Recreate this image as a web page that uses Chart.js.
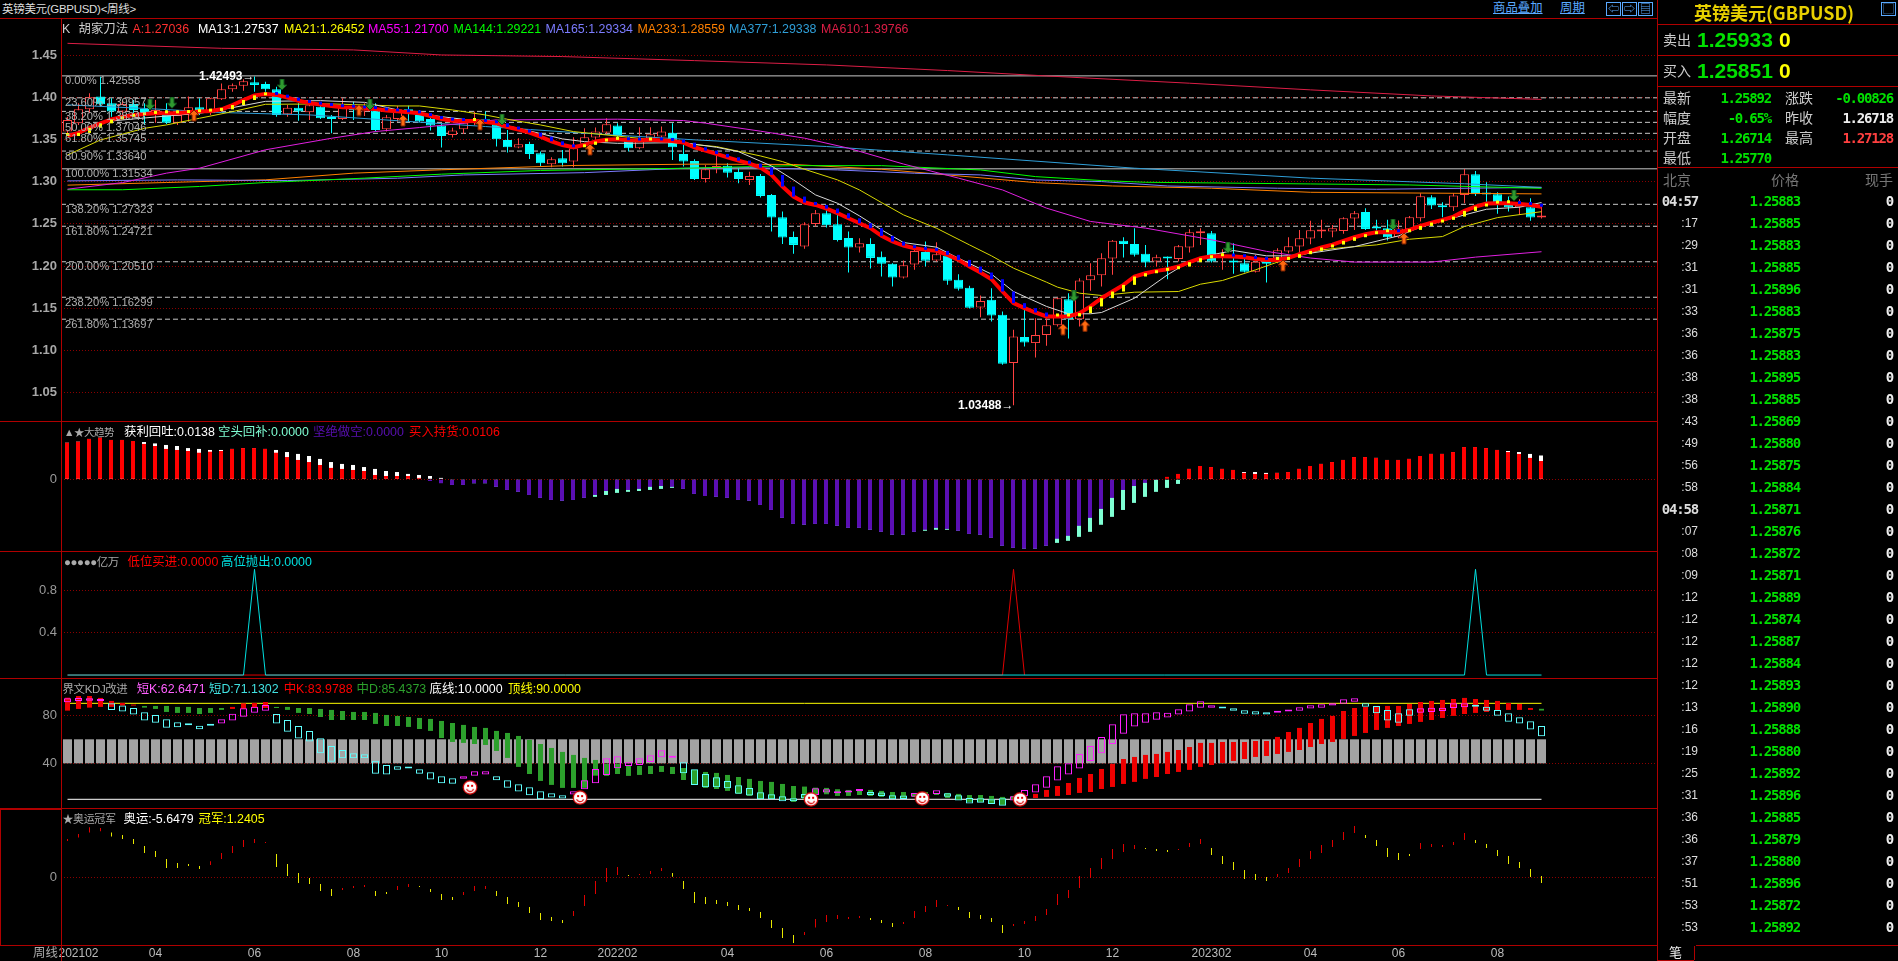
<!DOCTYPE html>
<html>
<head>
<meta charset="utf-8">
<title>英镑美元(GBPUSD)</title>
<script src="https://cdn.jsdelivr.net/npm/chart.js@4/dist/chart.umd.min.js"></script>
<style>
html,body{margin:0;padding:0;background:#000;overflow:hidden}
#page{position:relative;width:1898px;height:961px;background:#000;font-family:"Liberation Sans","Noto Sans CJK SC",sans-serif;font-size:12.4px;color:#ccc}
canvas{position:absolute;left:0;display:block}
.t{position:absolute;white-space:nowrap;line-height:14px;transform:translateY(-7px)}
.r{transform:translate(-100%,-7px)}
.n{font-family:"DejaVu Sans Mono",monospace;font-weight:bold;font-size:14px;letter-spacing:-1.2px}
.h{position:absolute;background:#b00000;height:1px}
.v{position:absolute;background:#b00000;width:1px}
.ic{position:absolute;border:1px solid #5aa9ff;color:#5aa9ff;width:13px;height:12px;line-height:12px;text-align:center;font-size:11px}
</style>
</head>
<body>
<div id="page">
<canvas id="c1" width="1657" height="403" style="top:18px"></canvas>
<canvas id="c2" width="1657" height="130" style="top:421px"></canvas>
<canvas id="c3" width="1657" height="127" style="top:551px"></canvas>
<canvas id="c4" width="1657" height="130" style="top:678px"></canvas>
<canvas id="c5" width="1657" height="153" style="top:808px"></canvas>
</div>
<script>
// 周线 K
const opens = [1.3595,1.3693,1.3859,1.4010,1.3931,1.3832,1.3923,1.3863,1.3804,1.3812,
1.3701,1.3792,1.3883,1.3812,1.3978,1.4096,1.4140,1.4179,1.4160,1.4096,
1.3800,1.3879,1.3824,1.3891,1.3765,1.3745,1.3883,1.3832,1.3844,1.3622,
1.3745,1.3852,1.3792,1.3745,1.3666,1.3555,1.3622,1.3694,1.3733,1.3682,
1.3496,1.3405,1.3449,1.3338,1.3208,1.3279,1.3239,1.3450,1.3525,1.3584,
1.3667,1.3497,1.3398,1.3517,1.3536,1.3582,1.3330,1.3247,1.3033,1.3160,
1.3191,1.3116,1.3022,1.3069,1.2844,1.2579,1.2346,1.2232,1.2500,1.2627,
1.2496,1.2334,1.2220,1.2263,1.2109,1.2026,1.1864,1.2018,1.2168,1.2066,
1.2121,1.1837,1.1742,1.1509,1.1599,1.1422,1.0849,1.1157,1.1086,1.1181,
1.1299,1.1607,1.1370,1.1833,1.1892,1.2089,1.2299,1.2263,1.2145,1.2054,
1.2101,1.2085,1.2220,1.2390,1.2390,1.2105,1.2054,1.2034,1.1931,1.2046,
1.2093,1.2172,1.2231,1.2326,1.2409,1.2409,1.2417,1.2563,1.2642,1.2465,
1.2449,1.2342,1.2437,1.2567,1.2816,1.2713,1.2698,1.2844,1.3089,1.2860,
1.2852,1.2745,1.2698,1.2698,1.2575];
const closes = [1.3733,1.3859,1.4002,1.3919,1.3832,1.3923,1.3852,1.3812,1.3852,1.3701,
1.3792,1.3883,1.3812,1.3990,1.4096,1.4144,1.4191,1.4148,1.4096,1.3792,
1.3879,1.3832,1.3907,1.3753,1.3745,1.3883,1.3852,1.3891,1.3615,1.3765,
1.3859,1.3836,1.3717,1.3666,1.3543,1.3607,1.3701,1.3741,1.3717,1.3504,
1.3409,1.3445,1.3330,1.3219,1.3267,1.3219,1.3397,1.3529,1.3596,1.3683,
1.3544,1.3398,1.3497,1.3564,1.3596,1.3409,1.3239,1.3033,1.3148,1.3187,
1.3108,1.3033,1.3069,1.2832,1.2575,1.2338,1.2251,1.2496,1.2627,1.2484,
1.2310,1.2220,1.2271,1.2097,1.2026,1.1864,1.2010,1.2180,1.2062,1.2141,
1.1825,1.1730,1.1505,1.1584,1.1414,1.0841,1.1165,1.1094,1.1181,1.1299,
1.1619,1.1370,1.1829,1.1892,1.2093,1.2299,1.2263,1.2133,1.2042,1.2105,
1.2089,1.2235,1.2401,1.2405,1.2054,1.2129,1.2042,1.1931,1.2050,1.2026,
1.2188,1.2235,1.2330,1.2425,1.2425,1.2449,1.2567,1.2627,1.2441,1.2445,
1.2342,1.2445,1.2579,1.2828,1.2717,1.2698,1.2836,1.3089,1.2852,1.2848,
1.2753,1.2698,1.2725,1.2575,1.2591];
const highs = [1.3772,1.3931,1.4049,1.4247,1.3990,1.3962,1.3970,1.3931,1.3970,1.3931,
1.3852,1.4010,1.3990,1.3990,1.4167,1.4167,1.4215,1.42493,1.4187,1.4128,
1.3911,1.3931,1.3938,1.3931,1.3792,1.3990,1.3950,1.3931,1.3931,1.3792,
1.3903,1.3903,1.3852,1.3772,1.3694,1.3642,1.3753,1.3832,1.3832,1.3713,
1.3615,1.3516,1.3476,1.3358,1.3291,1.3378,1.3528,1.3635,1.3643,1.3754,
1.3695,1.3536,1.3647,1.3647,1.3655,1.3695,1.3436,1.3266,1.3199,1.3318,
1.3219,1.3160,1.3120,1.3093,1.2856,1.2646,1.2409,1.2520,1.2666,1.2674,
1.2607,1.2409,1.2330,1.2330,1.2172,1.2034,1.2066,1.2212,1.2291,1.2283,
1.2172,1.1904,1.1765,1.1651,1.1738,1.1461,1.1244,1.1481,1.1382,1.1382,
1.1627,1.1678,1.1856,1.2034,1.2153,1.2310,1.2342,1.2449,1.2251,1.2133,
1.2113,1.2251,1.2437,1.2449,1.2417,1.2200,1.2271,1.2121,1.2133,1.2105,
1.2212,1.2342,1.2429,1.2536,1.2548,1.2488,1.2579,1.2654,1.2686,1.2548,
1.2548,1.2540,1.2595,1.2864,1.2840,1.2757,1.2864,1.3152,1.3128,1.2994,
1.2875,1.2824,1.2792,1.2804,1.2706];
const lows = [1.3543,1.3674,1.3812,1.3891,1.3772,1.3792,1.3812,1.3674,1.3701,1.3686,
1.3674,1.3713,1.3792,1.3792,1.3970,1.4069,1.4081,1.4069,1.4069,1.3772,
1.3772,1.3725,1.3733,1.3745,1.3575,1.3733,1.3733,1.3780,1.3595,1.3595,
1.3713,1.3713,1.3709,1.3607,1.3405,1.3524,1.3567,1.3670,1.3694,1.3417,
1.3346,1.3397,1.3271,1.3188,1.3172,1.3180,1.3172,1.3438,1.3497,1.3556,
1.3529,1.3359,1.3386,1.3497,1.3517,1.3259,1.3180,1.3022,1.2990,1.3101,
1.3049,1.2982,1.2962,1.2812,1.2409,1.2263,1.2145,1.2204,1.2468,1.2457,
1.2291,1.1923,1.2160,1.1971,1.1876,1.1758,1.1852,1.1955,1.1995,1.2054,
1.1777,1.1710,1.1497,1.1394,1.1343,1.0829,1.03488,1.1047,1.0916,1.1054,
1.1284,1.1141,1.1284,1.1706,1.1758,1.1896,1.2101,1.2113,1.1987,1.1994,
1.1844,1.2054,1.2160,1.2251,1.2042,1.1955,1.1908,1.1923,1.1923,1.1805,
1.2034,1.2153,1.2145,1.2259,1.2334,1.2342,1.2382,1.2429,1.2429,1.2401,
1.2303,1.2330,1.2409,1.2528,1.2678,1.2579,1.2654,1.2745,1.2832,1.2745,
1.2619,1.2646,1.2607,1.2536,1.2563];

// 均线
const lineA = [1.3543,1.3580,1.3640,1.3693,1.3740,1.3770,1.3792,1.3805,1.3812,1.3812,
1.3815,1.3825,1.3832,1.3840,1.3859,1.3910,1.3970,1.4025,1.4041,1.4030,
1.3998,1.3960,1.3935,1.3915,1.3899,1.3885,1.3880,1.3870,1.3863,1.3845,
1.3835,1.3825,1.3812,1.3780,1.3745,1.3725,1.3721,1.3722,1.3710,1.3694,
1.3650,1.3620,1.3583,1.3535,1.3480,1.3435,1.3409,1.3438,1.3477,1.3497,
1.3505,1.3493,1.3489,1.3497,1.3490,1.3484,1.3464,1.3409,1.3369,1.3330,
1.3290,1.3250,1.3215,1.3168,1.3081,1.2943,1.2824,1.2753,1.2725,1.2682,
1.2627,1.2567,1.2508,1.2449,1.2358,1.2291,1.2243,1.2212,1.2192,1.2180,
1.2133,1.2073,1.1994,1.1923,1.1844,1.1698,1.1560,1.1501,1.1449,1.1402,
1.1402,1.1402,1.1442,1.1521,1.1619,1.1698,1.1777,1.1876,1.1915,1.1943,
1.1963,1.1994,1.2046,1.2093,1.2117,1.2117,1.2113,1.2105,1.2085,1.2073,
1.2073,1.2097,1.2141,1.2180,1.2220,1.2255,1.2299,1.2342,1.2378,1.2401,
1.2405,1.2401,1.2429,1.2476,1.2516,1.2548,1.2587,1.2654,1.2706,1.2741,
1.2745,1.2745,1.2737,1.2725,1.2704];
const ma13At = [4,9,12,15,18,23,27,30,34,39,42,45,47,50,56,59,61,64,66,68,70,72,74,76,79,81,84,86,89,91,93,94,97,100,102,104,106,109,111,113,117,121,123,127,129,132,134];
const ma13 = [1.3721,1.3780,1.3812,1.3879,1.3954,1.3962,1.3942,1.3852,1.3772,1.3694,1.3603,1.3508,1.3476,1.3456,1.3464,1.3409,1.3357,1.3187,1.3022,1.2844,1.2745,1.2595,1.2429,1.2279,1.2224,1.2093,1.1904,1.1698,1.1521,1.1434,1.1434,1.1449,1.1619,1.1896,1.2054,1.2133,1.2184,1.2121,1.2121,1.2153,1.2231,1.2358,1.2461,1.2607,1.2674,1.2698,1.2754];
const ma21At = [0,3,7,9,12,15,18,24,30,32,35,38,40,43,46,52,55,59,63,65,67,70,72,74,76,79,82,84,86,89,90,92,94,97,101,103,105,108,111,114,116,119,122,125,127,130,134];
const ma21 = [1.3318,1.3496,1.3634,1.3674,1.3753,1.3832,1.3919,1.3923,1.3899,1.3899,1.3852,1.3792,1.3741,1.3674,1.3595,1.3515,1.3464,1.3417,1.3306,1.3239,1.3148,1.3022,1.2903,1.2753,1.2607,1.2449,1.2251,1.2121,1.1975,1.1809,1.1750,1.1678,1.1651,1.1690,1.1698,1.1785,1.1829,1.1955,1.2093,1.2192,1.2220,1.2251,1.2318,1.2350,1.2469,1.2575,1.2645];
const ma55At = [0,5,9,12,18,24,28,32,39,50,56,58,63,67,71,76,81,85,89,93,98,104,109,113,117,124,128,134];
const ma55 = [1.2912,1.2990,1.3102,1.3161,1.3379,1.3516,1.3596,1.3643,1.3734,1.3742,1.3726,1.3695,1.3600,1.3517,1.3398,1.3210,1.3043,1.2903,1.2687,1.2529,1.2450,1.2312,1.2174,1.2095,1.2047,1.2047,1.2106,1.2170];
const ma144At = [0,5,12,18,27,34,43,56,66,74,83,88,94,98,113,122,134];
const ma144 = [1.2905,1.2905,1.2944,1.2991,1.3043,1.3090,1.3134,1.3160,1.3191,1.3191,1.3140,1.3061,1.3014,1.2994,1.2974,1.2962,1.2922];
const ma165At = [0,10,20,30,36,47,56,62,70,77,83,88,94,100,110,119,134];
const ma165 = [1.3010,1.3022,1.3014,1.3042,1.3081,1.3108,1.3160,1.3168,1.3140,1.3101,1.3081,1.3021,1.3002,1.2950,1.2923,1.2911,1.2933];
const ma233At = [0,9,18,26,34,46,57,66,74,80,88,95,104,113,134];
const ma233 = [1.2960,1.2991,1.3023,1.3102,1.3142,1.3193,1.3209,1.3205,1.3148,1.3081,1.2990,1.2950,1.2923,1.2875,1.2856];
const ma377At = [0,7,14,22,38,47,57,69,80,97,113,127,134];
const ma377 = [1.3912,1.3870,1.3821,1.3793,1.3655,1.3576,1.3497,1.3418,1.3319,1.3161,1.3043,1.2976,1.2934];
const ma610At = [0,14,26,34,45,57,69,80,89,102,113,124,134];
const ma610 = [1.4642,1.4583,1.4564,1.4504,1.4485,1.4437,1.4386,1.4319,1.4255,1.4169,1.4090,1.4018,1.3977];

// 黄金分割
const fibPct = ['0.00%','23.60%','38.20%','50.00%','61.80%','80.90%','100.00%','138.20%','161.80%','200.00%','238.20%','261.80%'];
const fibVal = [1.42558,1.39957,1.38347,1.37046,1.35745,1.33640,1.31534,1.27323,1.24721,1.20510,1.16299,1.13697];

// 箭头
const downAt = [7.5,9.5,19.5,27.5,39.5,91.5,105.5,120.5,131.5];
const downPrice = [1.3911,1.3931,1.4148,1.3911,1.3733,1.1639,1.2212,1.2488,1.2832];
const upAt = [11.5,26.5,30.5,37.5,47.5,90.5,92.5,110.5,121.5];
const upPrice = [1.3780,1.3844,1.3721,1.3674,1.3378,1.1244,1.1283,1.2002,1.2322];

// 大趋势
const trendMain = [.0212,.0218,.0234,.0241,.0228,.0228,.0222,.0205,.0193,.0176,
.0170,.0164,.0154,.0160,.0164,.0176,.0181,.0181,.0176,.0154,
.0129,.0112,.0100,.0083,.0066,.0060,.0054,.0048,.0025,.0019,
.0019,.0019,.0008,-.0010,-.0023,-.0033,-.0033,-.0023,-.0023,-.0044,
-.0062,-.0073,-.0091,-.0108,-.0120,-.0125,-.0120,-.0108,-.0091,-.0068,
-.0056,-.0062,-.0056,-.0044,-.0039,-.0044,-.0056,-.0085,-.0097,-.0102,
-.0108,-.0120,-.0125,-.0149,-.0178,-.0224,-.0259,-.0264,-.0259,-.0259,
-.0270,-.0282,-.0282,-.0293,-.0305,-.0322,-.0322,-.0305,-.0293,-.0282,
-.0288,-.0299,-.0317,-.0322,-.0340,-.0386,-.0398,-.0403,-.0403,-.0386,
-.0345,-.0328,-.0270,-.0224,-.0172,-.0108,-.0062,-.0039,-.0021,-.0004,
.0014,.0031,.0060,.0077,.0071,.0060,.0054,.0037,.0031,.0031,
.0037,.0042,.0060,.0077,.0089,.0100,.0112,.0129,.0129,.0124,
.0112,.0112,.0118,.0135,.0147,.0147,.0158,.0187,.0187,.0181,
.0170,.0158,.0147,.0124,.0106];
const trendTip = [.0212,.0218,.0234,.0241,.0228,.0228,.0222,.0216,.0208,.0199,
.0193,.0181,.0176,.0170,.0170,.0176,.0181,.0181,.0176,.0170,
.0158,.0147,.0135,.0118,.0100,.0089,.0083,.0071,.0060,.0048,
.0042,.0031,.0025,.0019,.0008,-.0033,-.0033,-.0023,-.0023,-.0044,
-.0062,-.0073,-.0091,-.0108,-.0120,-.0125,-.0120,-.0108,-.0102,-.0091,
-.0079,-.0073,-.0068,-.0062,-.0056,-.0050,-.0056,-.0085,-.0097,-.0102,
-.0108,-.0120,-.0125,-.0149,-.0178,-.0224,-.0259,-.0264,-.0259,-.0259,
-.0270,-.0282,-.0282,-.0293,-.0305,-.0322,-.0322,-.0305,-.0299,-.0293,
-.0293,-.0299,-.0317,-.0322,-.0340,-.0386,-.0398,-.0403,-.0403,-.0386,
-.0369,-.0357,-.0334,-.0305,-.0264,-.0218,-.0178,-.0137,-.0102,-.0073,
-.0050,-.0027,.0060,.0077,.0071,.0060,.0054,.0042,.0042,.0037,
.0037,.0042,.0060,.0077,.0089,.0100,.0112,.0129,.0129,.0124,
.0112,.0112,.0118,.0135,.0147,.0147,.0158,.0187,.0187,.0181,
.0170,.0164,.0158,.0147,.0138];

// 亿万: 信号所在的周
const lowBuyAt = [85,86,87];
const lowBuy = [0,1,0];
const highSellAt = [0,16,17,18,127,128,129,134];
const highSell = [0,0,1,0,0,1,0,0];

// 界文KDJ
const shortK = [94.2,94.5,94.2,93.4,84.5,83.1,80.6,75.6,73.9,69.7,
70.0,71.7,68.4,71.4,76.7,81.4,85.9,87.2,88.6,73.1,
66.4,60.6,58.1,48.3,41.4,44.2,44.2,44.2,31.4,30.6,
34.7,35.6,31.4,26.4,23.3,23.0,29.2,33.3,33.3,25.8,
19.7,16.4,13.3,10.0,11.4,10.6,16.7,25.8,35.3,44.2,
45.8,40.9,44.2,46.7,50.9,45.0,31.7,22.0,20.0,20.0,
19.2,14.7,13.1,10.0,10.0,8.3,8.3,10.8,19.2,18.4,
16.4,17.0,17.5,13.6,12.8,10.0,10.3,15.3,14.5,17.5,
12.2,8.9,6.4,7.2,6.1,4.7,12.5,17.8,22.5,29.2,
37.5,40.0,47.8,54.5,62.0,72.5,80.9,81.7,81.7,82.5,
82.2,85.0,89.2,91.7,88.4,85.6,83.9,81.4,80.6,80.6,
82.8,84.2,86.7,88.4,89.2,90.0,93.4,94.2,87.2,81.7,
75.6,73.9,79.7,85.9,86.4,86.4,90.0,90.0,87.2,83.9,
79.7,74.7,73.1,68.1,62.65];
const shortD = [90.9,92.0,92.2,92.0,90.0,88.1,86.1,82.5,80.3,76.7,
74.2,73.4,71.4,72.0,73.1,75.6,78.9,82.2,83.9,81.1,
76.1,71.1,67.0,60.9,54.5,51.1,48.3,47.5,42.2,38.6,
37.5,36.7,35.0,32.5,29.2,27.5,27.2,29.7,30.6,29.2,
25.8,22.5,20.0,16.7,15.0,13.3,13.9,18.3,23.3,30.3,
35.9,37.8,38.6,41.1,45.0,44.7,40.9,35.0,31.1,28.3,
25.3,21.7,19.5,15.8,14.2,12.5,10.8,14.5,13.6,15.6,
15.0,15.6,17.0,16.1,15.6,13.3,13.1,12.2,12.8,14.5,
15.0,13.3,11.1,10.8,10.0,10.8,8.9,12.8,15.6,19.7,
25.6,30.6,35.6,42.0,48.3,56.1,64.7,70.6,73.9,76.4,
78.1,80.6,83.1,86.4,86.4,86.7,85.9,84.2,83.4,82.5,
82.2,83.1,83.9,85.6,86.4,88.1,89.7,91.4,90.0,87.8,
84.5,81.7,85.0,82.2,82.8,83.6,86.1,86.7,88.6,87.2,
84.5,81.7,78.3,75.0,71.13];
const midK = [94.7,96.1,96.1,94.5,92.0,90.3,88.6,86.4,85.3,82.8,
82.0,82.0,81.1,82.0,84.5,87.0,90.0,90.3,91.1,86.1,
84.5,82.0,81.1,78.6,76.1,76.1,76.1,76.1,72.8,71.1,
71.1,70.3,68.6,67.0,61.1,57.8,57.0,56.1,55.3,50.3,
44.5,37.0,31.1,25.3,22.0,19.5,19.5,19.5,29.7,29.5,
31.1,29.5,30.3,31.1,32.8,31.1,26.1,22.0,19.5,18.6,
17.0,14.5,12.8,10.3,10.3,9.5,7.8,10.3,13.6,14.2,
12.8,12.8,13.6,12.8,12.0,10.3,10.3,12.0,13.6,13.6,
11.1,9.5,7.8,7.8,6.1,5.3,9.5,10.0,14.5,17.8,
21.1,23.6,27.8,31.1,35.3,39.5,43.6,45.3,47.0,47.8,
49.5,51.1,53.6,57.0,57.0,57.8,57.8,57.8,58.6,58.6,
62.0,66.1,69.5,73.6,77.0,79.5,83.6,86.1,87.0,87.8,
87.8,87.8,89.5,91.1,92.0,92.8,93.6,94.5,93.6,92.8,
92.0,90.3,89.5,86.1,83.98];
const midD = [83.9,85.3,86.4,87.0,87.0,88.1,88.1,87.8,87.8,87.8,
87.0,87.0,86.1,86.1,86.1,85.3,85.3,86.1,86.1,87.0,
87.0,86.1,86.1,85.3,84.5,83.6,82.8,82.8,82.0,80.3,
79.5,78.6,77.8,77.0,75.3,73.6,72.0,70.3,69.5,67.0,
65.3,62.8,59.5,56.1,52.8,49.5,47.0,44.5,42.8,39.5,
39.5,38.6,37.8,37.8,37.8,37.0,36.1,34.5,32.8,32.0,
30.3,28.6,27.0,25.3,24.5,22.8,21.1,20.6,19.7,19.5,
18.4,17.8,17.8,17.8,17.0,16.1,16.1,15.3,16.1,15.3,
15.3,14.5,13.6,13.6,12.8,12.0,12.8,12.8,11.1,12.0,
12.8,13.6,15.3,16.1,18.6,20.3,22.8,24.5,27.0,28.6,
31.1,32.8,34.5,37.0,38.6,40.3,42.0,43.6,45.3,46.1,
47.8,49.5,51.1,53.6,56.1,57.8,60.3,62.8,65.3,67.8,
69.5,71.1,72.8,74.5,76.1,77.8,79.5,81.1,82.0,82.8,
83.6,84.5,84.5,84.5,85.44];
const kdBandLow = 40, kdBandHigh = 60;
const kdBottom = 10, kdTop = 90;
const smileAt = [36.6,46.6,67.6,77.7,86.6];
const smileVal = [20,11.4,10,10.8,10];

// 奥运冠军
const olympic = [38.3,43.3,50,49.3,40.7,38.3,33.3,24.3,20.3,9.3,
9.3,11.3,8.3,16,24.3,31.3,37.3,38.3,35.3,10.3,
1.3,-5.7,-6.7,-13.7,-18.7,-10.7,-8.7,-7.7,-18.7,-16.7,
-8.7,-6.7,-9.7,-14.7,-22.7,-22.7,-14.7,-8.7,-8.7,-18.7,
-26.7,-29.7,-35.7,-42.7,-43.7,-45.7,-33.7,-17.7,-3.7,9.3,
10.3,1.3,3.3,6.3,9.3,0,-11.7,-25.7,-26.7,-26.7,
-28.7,-32.7,-33.7,-40.7,-50.7,-60.7,-65.7,-54.7,-41.7,-37.7,
-37.7,-39.7,-38.7,-42.7,-45.7,-49.7,-44.7,-33.7,-28.7,-22.7,
-27.7,-32.7,-40.7,-41.7,-44.7,-55.7,-46.7,-43.7,-38.7,-31.7,
-16.7,-12.7,1.3,9.3,19.3,28.3,33.3,32.3,28.3,26.3,
25.3,28.3,34.3,38.3,22.3,13.3,7.3,-1.7,-2.7,-3.7,
3.3,9.3,18.3,26.3,32.3,37.3,45.3,51.3,39.3,31.3,
20.3,17.3,21.3,34.3,33.3,32.3,35.3,44.3,34.3,29.3,
21.3,13.3,9.3,0.3,-5.65];
const champion = [36.3,39.7,44.7,46,44.7,42.3,38.3,31.3,26.3,18.3,
14.3,13.3,11.3,12.3,18.3,24.3,30.3,34.3,34.3,23.3,
13.3,4.3,-0.7,-6.7,-11.7,-12.7,-10.7,-9.7,-13.7,-14.7,
-12.7,-9.7,-8.7,-11.7,-16.7,-19.7,-17.7,-13.7,-11.7,-13.7,
-19.7,-24.7,-29.7,-35.7,-39.7,-42.7,-38.7,-28.7,-16.7,-4.7,
2.3,2.3,2.3,3.3,6.3,4.3,-3.7,-14.7,-19.7,-22.7,
-24.7,-27.7,-30.7,-34.7,-42.7,-50.7,-57.7,-57.7,-50.3,-44.7,
-41.7,-41.7,-40.7,-40.7,-42.7,-45.7,-46.7,-40.7,-34.7,-29.7,
-28.7,-29.7,-34.7,-37.7,-40.7,-47.7,-48.7,-46.7,-43.7,-37.7,
-27.7,-20.7,-10.7,-0.7,8.3,18.3,25.3,28.3,29.3,28.3,
27.3,27.3,30.3,33.3,29.3,21.3,15.3,7.3,3.3,0.3,
0.3,4.3,10.3,18.3,24.3,30.3,37.3,44.3,42.3,37.3,
29.3,24.3,23.3,28.3,30.3,30.3,32.3,37.3,37.3,33.3,
27.3,21.3,15.3,8.3,1.24];

// 坐标轴
const mainTicks = [1.45,1.40,1.35,1.30,1.25,1.20,1.15,1.10,1.05];
const dateAt = [1,8,17,26,34,43,50,60,69,78,87,95,104,113,121,130];
const dateText = ['202102','04','06','08','10','12','202202','04','06','08','10','12','202302','04','06','08'];

// 右侧报价
const tradeTimes = ['04:57',':17',':29',':31',':31',':33',':36',':36',':38',':38',':43',':49',':56',':58','04:58',':07',':08',':09',':12',':12',':12',':12',':12',':13',':16',':19',':25',':31',':36',':36',':37',':51',':53',':53'];
const tradePrices = ['1.25883','1.25885','1.25883','1.25885','1.25896','1.25883','1.25875','1.25883','1.25895','1.25885','1.25869','1.25880','1.25875','1.25884','1.25871','1.25876','1.25872','1.25871','1.25889','1.25874','1.25887','1.25884','1.25893','1.25890','1.25888','1.25880','1.25892','1.25896','1.25885','1.25879','1.25880','1.25896','1.25872','1.25892'];

const RED = '#ff4040', CYAN = '#00ffff';
const count = closes.length;
const idx = closes.map((_, i) => i);
const pts = (at, vals) => vals.map((y, i) => ({x: at[i], y}));
const bars = (a, b) => idx.map(i => ({x: i, y: [a[i], b[i]]}));
const level = (v, from, to) => [{x: from, y: v}, {x: to, y: v}];

function line(data, color, width, order, extra) {
  return Object.assign({type: 'line', data, borderColor: color, borderWidth: width, pointRadius: 0, tension: 0, order, parsing: true}, extra);
}
function bar(data, color, width, order, extra) {
  return Object.assign({type: 'bar', data, backgroundColor: color, grouped: false, maxBarThickness: width,
    barPercentage: 1, categoryPercentage: 1, borderSkipped: false, inflateAmount: 0, order}, extra);
}

function sprite(w, h, draw) {
  const c = document.createElement('canvas');
  c.width = w; c.height = h;
  draw(c.getContext('2d'));
  return c;
}
function arrowPath(g, down) {
  const p = down ? [[4,0],[8,0],[8,6],[11,6],[6,11],[1,6],[4,6]] : [[6,0],[11,5],[8,5],[8,11],[4,11],[4,5],[1,5]];
  g.beginPath();
  p.forEach((q, i) => i ? g.lineTo(q[0], q[1]) : g.moveTo(q[0], q[1]));
  g.closePath();
}
const downArrow = sprite(12, 12, g => { arrowPath(g, true); g.fillStyle = '#2f9a2f'; g.fill(); g.strokeStyle = '#0d4a1a'; g.stroke(); });
const upArrow = sprite(12, 12, g => { arrowPath(g, false); g.fillStyle = '#ff6a10'; g.fill(); g.strokeStyle = '#7a2000'; g.stroke(); });
const smile = sprite(16, 15, g => {
  g.fillStyle = '#fff'; g.strokeStyle = '#e00000'; g.lineWidth = 1.2;
  g.beginPath(); g.ellipse(8, 7.5, 6.8, 6.6, 0, 0, 7); g.fill(); g.stroke();
  g.fillStyle = '#e00000';
  g.fillRect(5, 5, 2, 2); g.fillRect(9, 5, 2, 2);
  g.beginPath(); g.arc(8, 8, 3.6, 0.3, 2.84); g.stroke();
});

const tickFont = {family: 'Liberation Sans', size: 13};
function panel(id, yMin, yMax, yTicks, fmt, center, datasets, plugins, xAxis, bold) {
  return new Chart(document.getElementById(id), {
    type: 'bar',
    data: {datasets},
    plugins: plugins || [],
    options: {
      animation: false, responsive: false, devicePixelRatio: 1,
      layout: {autoPadding: false, padding: 0},
      plugins: {legend: {display: false}, tooltip: {enabled: false}},
      scales: {
        x: Object.assign({type: 'linear', offset: false, min: (61 - center) / 11, max: (1657 - center) / 11,
          display: false, grid: {display: false, offset: false, drawTicks: false}}, xAxis || {}),
        y: {
          min: yMin, max: yMax,
          // 标签不占用绘图区
          afterFit: s => { s.width = 61; s.paddingTop = 0; s.paddingBottom = 0; },
          afterBuildTicks: s => { s.ticks = yTicks.map(value => ({value})); },
          ticks: {color: bold ? '#a8a8a8' : '#9a9a9a', padding: 4, font: Object.assign({}, tickFont, bold ? {weight: 'bold'} : {}), callback: fmt},
          grid: {color: '#8a0000', drawTicks: false},
          border: {display: false, dash: [1, 2]}
        }
      }
    }
  });
}

// 主图
const mainLabels = {
  id: 'mainLabels',
  afterDatasetsDraw(chart) {
    const g = chart.ctx, y = chart.scales.y, x = chart.scales.x;
    g.save();
    g.font = '11.2px "Liberation Sans"';
    g.fillStyle = '#b0b0b0';
    g.textBaseline = 'middle';
    g.textAlign = 'left';
    fibVal.forEach((v, i) => g.fillText(fibPct[i] + ' ' + v.toFixed(5), 65, y.getPixelForValue(v) + 5.5));
    g.font = 'bold 12px "Liberation Sans"';
    g.fillStyle = '#fff';
    g.textAlign = 'right';
    const hi = Math.max(...highs), lo = Math.min(...lows);
    g.fillText(hi.toFixed(5) + '→', x.getPixelForValue(highs.indexOf(hi)), y.getPixelForValue(hi));
    g.fillText(lo.toFixed(5) + '→', x.getPixelForValue(lows.indexOf(lo)), y.getPixelForValue(lo));
    g.restore();
  }
};
const xEnds = [(61 - 67.5) / 11, (1657 - 67.5) / 11];
const fibSets = fibVal.map((v, i) => line(level(v, xEnds[0], xEnds[1]), '#c8c8c8', 1, 90,
  (i === 0 || i === 6) ? {} : {borderDash: [5, 3]}));
const upBar = idx.map(i => closes[i] >= opens[i]);
const steps = idx.map(i => ({x: i, y: [lineA[Math.max(0, i - 1)], lineA[i]]}));
panel('c1', 1.01620, 1.49425, mainTicks, v => v.toFixed(2), 67.5, [
  ...fibSets,
  bar(bars(lows, highs), idx.map(i => upBar[i] ? RED : CYAN), 1, 70),
  bar(bars(opens, closes), idx.map(i => upBar[i] ? '#000' : CYAN), 9, 60,
    {borderColor: idx.map(i => upBar[i] ? RED : CYAN), borderWidth: 1, minBarLength: 2}),
  line(pts(ma610At, ma610), '#dc1e46', 1, 50),
  line(pts(ma377At, ma377), '#2f9fd8', 1, 49),
  line(pts(ma233At, ma233), '#ff8000', 1, 48),
  line(pts(ma165At, ma165), '#7c7cff', 1, 47),
  line(pts(ma144At, ma144), '#00ff00', 1, 46),
  line(pts(ma55At, ma55), '#e020e0', 1, 45),
  line(pts(ma21At, ma21), '#d8d800', 1, 44),
  line(pts(ma13At, ma13), '#d8d8d8', 1, 43),
  line(pts(idx, lineA), '#ff0000', 4, 30),
  bar(steps, idx.map(i => lineA[i] >= lineA[Math.max(0, i - 1)] ? '#ffff00' : '#0000ff'), 3, 20, {minBarLength: 3}),
  line(pts(downAt, downPrice), '#2f9a2f', 0, 5, {showLine: false, pointStyle: downArrow, pointRadius: 6}),
  line(pts(upAt, upPrice), '#ff6a10', 0, 5, {showLine: false, pointStyle: upArrow, pointRadius: 6})
], [mainLabels], null, true);

// 大趋势
panel('c2', -0.0416, 0.0338, [0], () => '0', 67, [
  bar(idx.map(i => ({x: i, y: [0, trendTip[i]]})), idx.map(i => trendTip[i] >= 0 ? '#ffffff' : '#7fffd4'), 4, 20),
  bar(idx.map(i => ({x: i, y: [0, trendMain[i]]})), idx.map(i => trendMain[i] >= 0 ? '#ff0000' : '#5a0fb4'), 4, 10)
]);

// 亿万
panel('c3', -0.028, 1.173, [0.8, 0.4], v => v.toFixed(1), 67.5, [
  line(pts(lowBuyAt, lowBuy), '#e00000', 1, 20),
  line(level(0, 0, lowBuyAt[0]), '#e00000', 1, 21),
  line(pts(highSellAt, highSell), '#00e0e0', 1, 10)
]);

// 界文KDJ
panel('c4', 2.75, 111.1, [80, 40], v => String(v), 67.5, [
  bar(idx.map(i => ({x: i, y: [kdBandLow, kdBandHigh]})), '#a3a3a3', 9, 60),
  bar(bars(midD, midK), idx.map(i => midK[i] >= midD[i] ? '#ee0000' : '#2ca02c'), 5, 40, {minBarLength: 1}),
  bar(bars(shortD, shortK), 'rgba(0,0,0,0)', 7, 30,
    {borderColor: idx.map(i => shortK[i] >= shortD[i] ? '#ff20ff' : '#60ffff'), borderWidth: 1, minBarLength: 2}),
  line(level(kdBottom, 0, count - 1), '#ffffff', 1, 50),
  line(level(kdTop, 0, count - 1), '#ffff00', 1, 50),
  line(pts(smileAt, smileVal), '#fff', 0, 5, {showLine: false, pointStyle: smile, pointRadius: 8})
]);

// 奥运冠军, 日期轴在这一块
panel('c5', -67.7, 69.3, [0], () => '0', 67.5, [
  bar(bars(champion, olympic), idx.map(i => olympic[i] >= champion[i] ? '#e00000' : '#e8e800'), 1, 10, {minBarLength: 1})
], [], {
  display: true,
  afterFit: s => { s.height = 16; s.paddingLeft = 0; s.paddingRight = 0; },
  afterBuildTicks: s => { s.ticks = dateAt.map(value => ({value})); },
  ticks: {color: '#bbbbbb', padding: 1, autoSkip: false, maxRotation: 0, font: {family: 'Liberation Sans', size: 12},
    callback: v => dateText[dateAt.indexOf(v)]},
  border: {display: false}
});

// 文字和框线
const page = document.getElementById('page');
function text(s, x, y, color, opt) {
  opt = opt || {};
  const d = document.createElement('div');
  d.className = 't' + (opt.right ? ' r' : '') + (opt.num ? ' n' : '');
  d.textContent = s;
  d.style.left = x + 'px';
  d.style.top = y + 'px';
  d.style.color = color;
  if (opt.css) d.style.cssText += opt.css;
  page.appendChild(d);
}
function rule(cls, x, y, len) {
  const d = document.createElement('div');
  d.className = cls;
  d.style.left = x + 'px';
  d.style.top = y + 'px';
  if (cls === 'h') d.style.width = len + 'px'; else d.style.height = len + 'px';
  page.appendChild(d);
}
[18, 421, 551, 678, 808, 945].forEach(y => rule('h', 0, y, 1657));
rule('h', 0, 809, 61);
rule('h', 1696, 945, 202);
rule('v', 61, 18, 943);
rule('v', 0, 808, 137);
rule('v', 1657, 0, 960);
[24, 55, 86, 167].forEach(y => rule('h', 1657, y, 241));
rule('h', 1657, 960, 37);
rule('v', 1694, 946, 14);

text('英镑美元(GBPUSD)<周线>', 2, 9, '#dddddd', {css: 'font-size:11.5px;letter-spacing:-.3px'});
const blue = '#5aa9ff';
text('商品叠加', 1493, 8, blue, {css: 'text-decoration:underline'});
text('周期', 1560, 8, blue, {css: 'text-decoration:underline'});

[[1606, '⇦'], [1622, '⇨'], [1638, '▤'], [1881, '▢']].forEach(b => {
  const d = document.createElement('div');
  d.className = 'ic';
  d.textContent = b[1];
  d.style.left = b[0] + 'px';
  d.style.top = '2px';
  page.appendChild(d);
});

const prefix = {css: 'font-size:11.5px;letter-spacing:-.4px'};
[['K', 62, '#cccccc'], ['胡家刀法', 78.5, '#cccccc'], ['A:1.27036', 132.6, '#ff3030'], ['MA13:1.27537', 198, '#ffffff'],
 ['MA21:1.26452', 284, '#ffff00'], ['MA55:1.21700', 368, '#ff00ff'], ['MA144:1.29221', 453.6, '#00ff00'],
 ['MA165:1.29334', 545.5, '#7c7cff'], ['MA233:1.28559', 637.5, '#ff8000'], ['MA377:1.29338', 729, '#2f9fd8'],
 ['MA610:1.39766', 821, '#dc1e46']].forEach(l => text(l[0], l[1], 29, l[2]));
text('▲★大趋势', 64, 432, '#aaaaaa', {css: 'font-size:10.5px;letter-spacing:-.5px'});
[['获利回吐:0.0138', 124, '#ffffff'], ['空头回补:0.0000', 218, '#7fffd4'],
 ['坚绝做空:0.0000', 313, '#5a0fb4'], ['买入持货:0.0106', 409, '#ff0000']].forEach(l => text(l[0], l[1], 432, l[2]));
text('●●●●●亿万', 64, 562, '#aaaaaa', prefix);
[['低位买进:0.0000', 127.5, '#ff0000'], ['高位抛出:0.0000', 221, '#00e0e0']].forEach(l => text(l[0], l[1], 562, l[2]));
text('界文KDJ改进', 62.5, 689, '#aaaaaa', prefix);
[['短K:62.6471', 136.7, '#ff60ff'], ['短D:71.1302', 209, '#40e0e0'], ['中K:83.9788', 283.7, '#ff0000'],
 ['中D:85.4373', 356.6, '#2ca02c'], ['底线:10.0000', 429.6, '#ffffff'], ['顶线:90.0000', 508, '#ffff00']].forEach(l => text(l[0], l[1], 689, l[2]));
text('★奥运冠军', 62.5, 819, '#aaaaaa', {css: 'font-size:11px;letter-spacing:-.4px'});
[['奥运:-5.6479', 123.5, '#ffffff'], ['冠军:1.2405', 198.5, '#ffff00']].forEach(l => text(l[0], l[1], 819, l[2]));
text('周线', 33, 953, '#aaaaaa');

// 报价栏
const green = '#00e000';
text('英镑美元(GBPUSD)', 1694, 12, '#e8d000', {css: 'font-family:"Noto Sans CJK SC";font-size:18px;font-weight:bold;line-height:20px;transform:translateY(-10px)'});
const big = 'font-size:21px;font-weight:bold;line-height:24px;transform:translateY(-12px)';
text('卖出', 1663, 40, '#cccccc', {css: 'font-size:14px'});
text('1.25933', 1697, 40, green, {css: big});
text('0', 1779, 40, '#ffff00', {css: big});
text('买入', 1663, 71, '#cccccc', {css: 'font-size:14px'});
text('1.25851', 1697, 71, green, {css: big});
text('0', 1779, 71, '#ffff00', {css: big});
[['最新', '1.25892', green, 97.5], ['幅度', '-0.65%', green, 117.5], ['开盘', '1.26714', green, 137.5], ['最低', '1.25770', green, 157.5]].forEach(r => {
  text(r[0], 1663, r[3], '#cccccc', {css: 'font-size:14px'});
  text(r[1], 1771, r[3], r[2], {right: true, num: true});
});
[['涨跌', '-0.00826', green, 97.5], ['昨收', '1.26718', '#eeeeee', 117.5], ['最高', '1.27128', '#ff4040', 137.5]].forEach(r => {
  text(r[0], 1785, r[3], '#cccccc', {css: 'font-size:14px'});
  text(r[1], 1893, r[3], r[2], {right: true, num: true});
});
text('北京', 1663, 180, '#777777', {css: 'font-size:14px'});
text('价格', 1799, 180, '#777777', {right: true, css: 'font-size:14px'});
text('现手', 1893, 180, '#777777', {right: true, css: 'font-size:14px'});
tradeTimes.forEach((t, i) => {
  const y = 201 + 22 * i;
  const full = t.length > 3;
  text(t, 1698, y, '#dddddd', {right: true, num: full, css: full ? '' : 'font-size:12px'});
  text(tradePrices[i], 1800, y, green, {right: true, num: true});
  text('0', 1893, y, '#eeeeee', {right: true, num: true});
});
text('笔', 1669, 953, '#eeeeee', {css: 'font-size:13px'});
</script>
</body>
</html>
